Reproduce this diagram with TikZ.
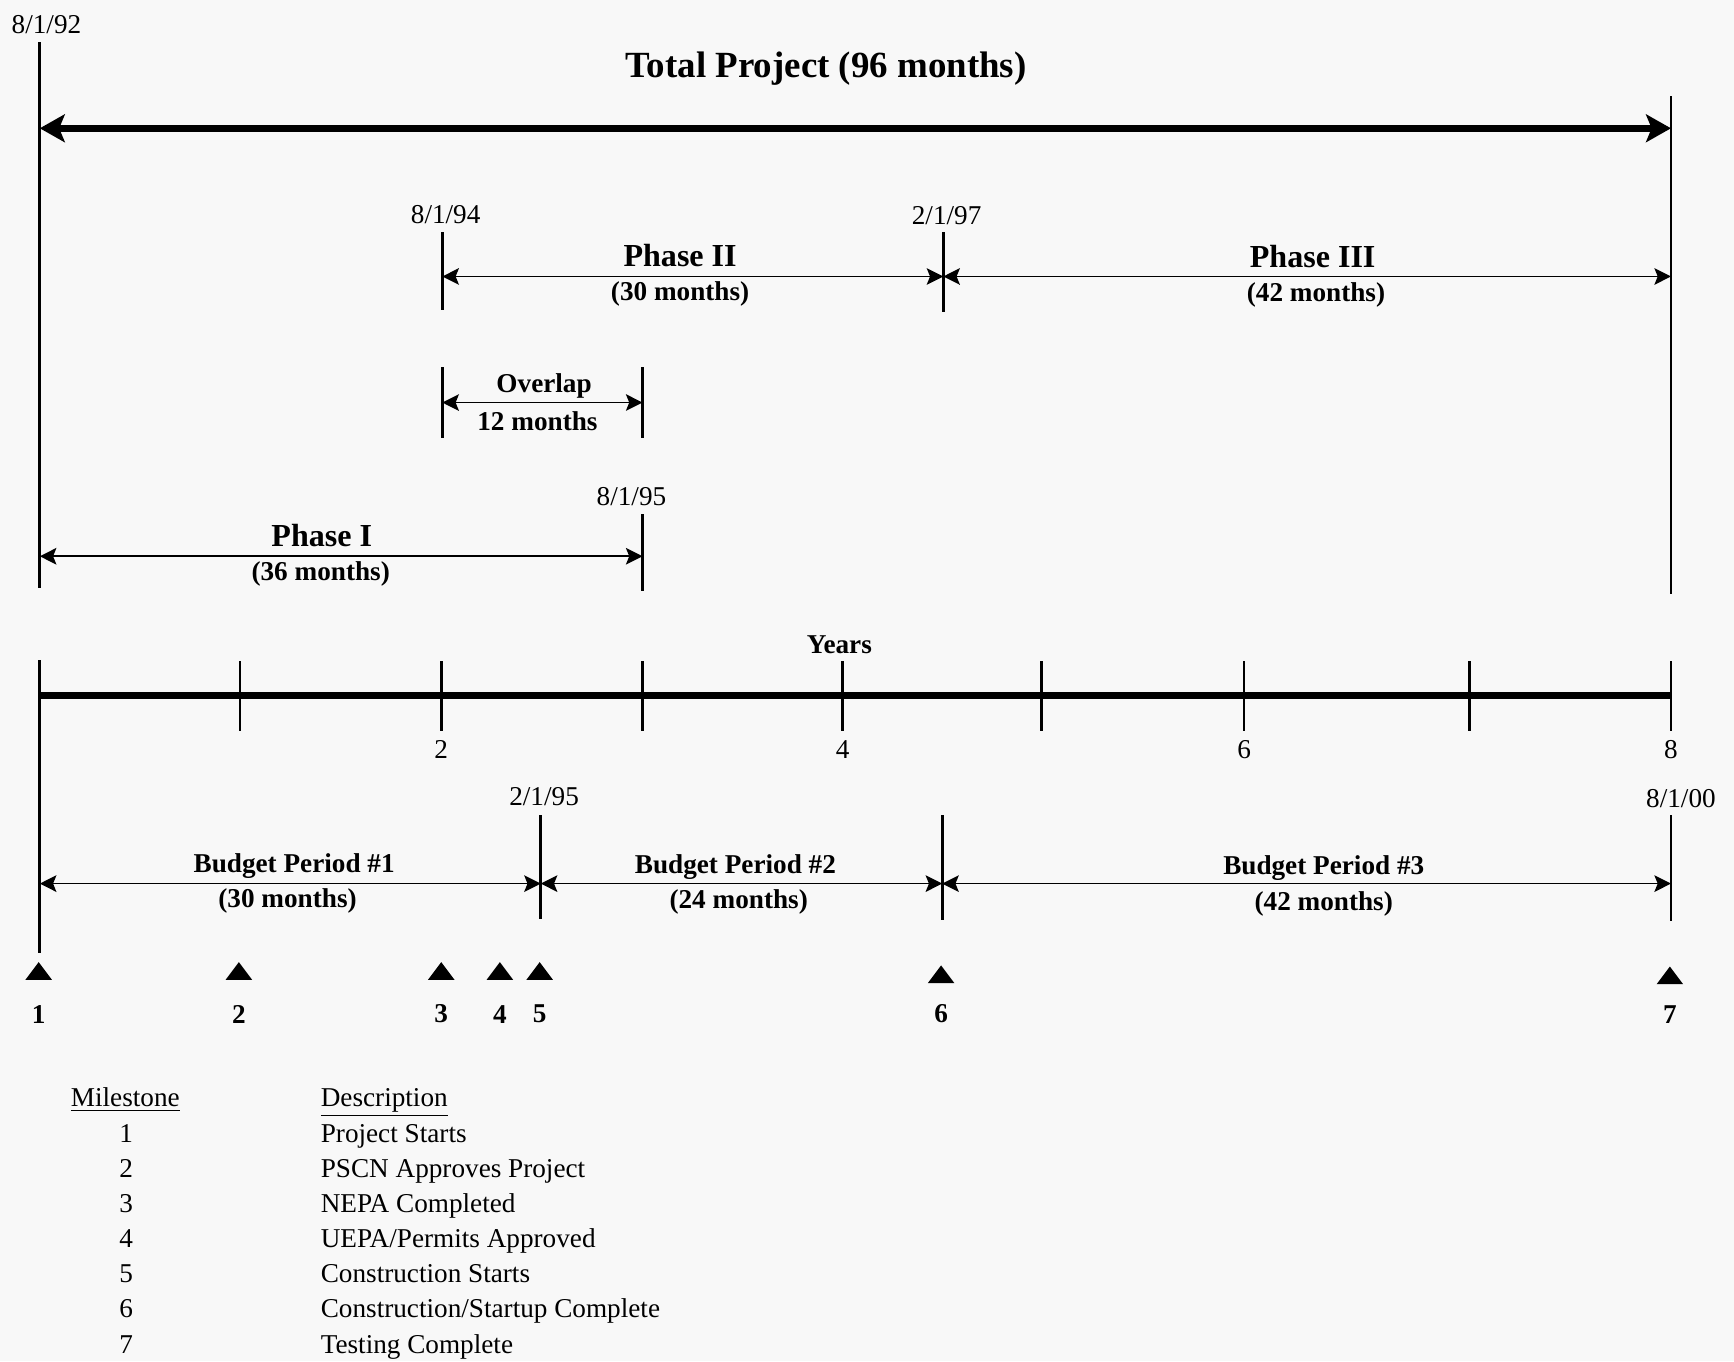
\documentclass[tikz,border=0pt]{standalone}
\usepackage{fontspec}
\setmainfont{Liberation Serif}
\usetikzlibrary{positioning, arrows.meta}
\definecolor{paper}{RGB}{248,248,248}

\begin{document}
\begin{tikzpicture}[
    x=0.02cm, y=-0.02cm,
    datelbl/.style={font=\fontsize{14}{16}\selectfont, inner sep=1pt},
    period/.style={font=\fontsize{16.5}{19}\selectfont\bfseries, inner sep=1pt},
    months/.style={font=\fontsize{14}{16}\selectfont\bfseries, inner sep=1pt},
    legendtxt/.style={font=\fontsize{14}{16}\selectfont, inner sep=1pt},
    marker/.style={line width=1.4pt},
    span/.style={{Stealth[length=3mm, width=3mm, inset=0.6mm]}-{Stealth[length=3mm, width=3mm, inset=0.6mm]}, line width=0.8pt},
    bigspan/.style={{Stealth[length=4.5mm, width=5mm, inset=1mm]}-{Stealth[length=4.5mm, width=5mm, inset=1mm]}, line width=3.4pt},
    axis/.style={line width=3.4pt}
]
    % Page
    \fill[paper] (0,0) rectangle (1568,1231);
    \useasboundingbox (0,0) rectangle (1568,1231);

    % Total project
    \node[datelbl] (d92) at (42,22) {8/1/92};
    \node[font=\fontsize{19}{22}\selectfont\bfseries] (total) at (747,62) {Total Project (96 months)};
    \draw[marker] (36,38) -- (36,532);
    \draw[marker] (1511,87) -- (1511,537);
    \coordinate (t0) at (36,116);
    \coordinate (t8) at (1511,116);
    \draw[bigspan] (t0) -- (t8);

    % Phase II and III
    \node[datelbl] (d94) at (403,194) {8/1/94};
    \node[datelbl] (d97) at (856,195) {2/1/97};
    \draw[marker] (400,210) -- (400,280);
    \draw[marker] (853,210) -- (853,282);
    \coordinate (p2a) at (400,250);
    \coordinate (p2b) at (853,250);
    \coordinate (p3b) at (1511,250);
    \draw[span] (p2a) -- (p2b);
    \draw[span] (p2b) -- (p3b);
    \node[period] (ph2) at (615,231) {Phase II};
    \node[months] (ph2m) at (615,266) {(30 months)};
    \node[period] (ph3) at (1187,232) {Phase III};
    \node[months] (ph3m) at (1190,267) {(42 months)};

    % Overlap
    \draw[marker] (400,332) -- (400,396);
    \draw[marker] (581,332) -- (581,396);
    \coordinate (ova) at (400,364);
    \coordinate (ovb) at (581,364);
    \draw[span] (ova) -- (ovb);
    \node[months] (ov) at (492,349) {Overlap};
    \node[months] (ovm) at (486,381) {12 months};

    % Phase I
    \node[datelbl] (d95) at (571,449) {8/1/95};
    \draw[marker] (581,465) -- (581,534);
    \coordinate (p1a) at (36,503);
    \coordinate (p1b) at (581,503);
    \draw[span] (p1a) -- (p1b);
    \node[period] (ph1) at (291,484) {Phase I};
    \node[months] (ph1m) at (290,519) {(36 months)};

    % Years axis
    \node[months] (years) at (759,583) {Years};
    \coordinate (ax0) at (36,629);
    \coordinate (ax8) at (1511,629);
    \draw[axis] (ax0) -- (ax8);
    \draw[marker] (36,597) -- (36,862);
    \foreach \px in {217,399,581,762,942,1125,1329,1511}
        \draw[marker] (\px,598) -- (\px,661);
    \foreach \yr/\px in {2/399,4/762,6/1125,8/1511}
        \node[datelbl] (yr\yr) at (\px,678) {\yr};

    % Budget periods
    \node[datelbl] (dbp) at (492,720) {2/1/95};
    \node[datelbl] (d00) at (1520,722) {8/1/00};
    \draw[marker] (489,737) -- (489,831);
    \draw[marker] (852,737) -- (852,832);
    \draw[marker] (1511,737) -- (1511,833);
    \coordinate (b0) at (36,799);
    \coordinate (b1) at (489,799);
    \coordinate (b2) at (852,799);
    \coordinate (b3) at (1511,799);
    \draw[span] (b0) -- (b1);
    \draw[span] (b1) -- (b2);
    \draw[span] (b2) -- (b3);
    \node[months] (bp1) at (266,783) {Budget Period \#1};
    \node[months] (bp1m) at (260,815) {(30 months)};
    \node[months] (bp2) at (665,784) {Budget Period \#2};
    \node[months] (bp2m) at (668,816) {(24 months)};
    \node[months] (bp3) at (1197,785) {Budget Period \#3};
    \node[months] (bp3m) at (1197,817) {(42 months)};

    % Milestones
    \foreach \n/\px/\ty in {1/35/878, 2/216/878, 3/399/878, 4/452/878, 5/488/878, 6/851/881, 7/1510/882} {
        \fill (\px-12,\ty+8) -- (\px+12,\ty+8) -- (\px,\ty-8) -- cycle;
        \node[months] (ms\n) at (\px,917) {\n};
    }

    % Legend
    \node[legendtxt, anchor=base west] (lhead) at (62,1001) {\underline{Milestone}};
    \node[legendtxt, anchor=base west] (dhead) at (288,1001) {\underline{Description}};
    \foreach \n/\desc in {1/Project Starts, 2/PSCN Approves Project, 3/NEPA Completed,
        4/{UEPA/Permits Approved}, 5/Construction Starts, 6/{Construction/Startup Complete},
        7/Testing Complete} {
        \node[legendtxt, anchor=base] (num\n) at (114,1001+31.8*\n) {\n};
        \node[legendtxt, anchor=base west] (desc\n) at (288,1001+31.8*\n) {\desc};
    }
\end{tikzpicture}
\end{document}
